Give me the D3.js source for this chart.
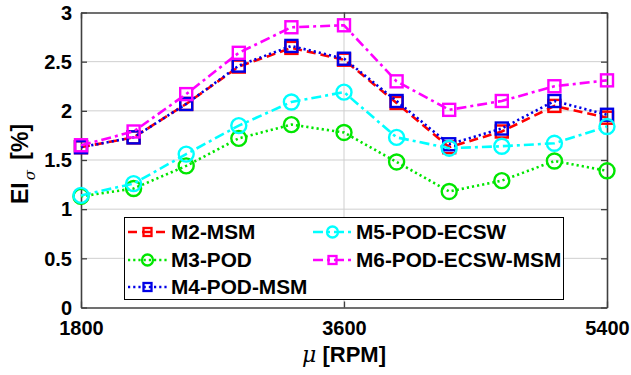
<!DOCTYPE html>
<html>
<head>
<meta charset="utf-8">
<script src="https://cdn.jsdelivr.net/npm/d3@7"></script>
<style>
  html, body { margin: 0; padding: 0; background: #fff; }
  svg { display: block; font-family: "Liberation Sans", Arial, Helvetica, sans-serif; font-weight: bold; }
</style>
</head>
<body>
<svg id="chart" width="631" height="375"></svg>
<script>
// Rotational speed samples (RPM)
const speeds = [1800, 2160, 2520, 2880, 3240, 3600, 3960, 4320, 4680, 5040, 5400];

// Error indicator EI_sigma (%) per reduced model
const m2MSM        = [1.63, 1.73, 2.07, 2.45, 2.64, 2.52, 2.08, 1.63, 1.79, 2.05, 1.93];
const m3POD        = [1.13, 1.21, 1.44, 1.72, 1.86, 1.78, 1.48, 1.18, 1.29, 1.49, 1.39];
const m4PODMSM     = [1.63, 1.73, 2.07, 2.46, 2.66, 2.53, 2.10, 1.66, 1.82, 2.10, 1.96];
const m5PODECSW    = [1.14, 1.26, 1.56, 1.85, 2.09, 2.19, 1.73, 1.62, 1.64, 1.67, 1.84];
const m6PODECSWMSM = [1.65, 1.79, 2.17, 2.59, 2.85, 2.87, 2.30, 2.01, 2.10, 2.25, 2.31];

const seriesNames = ["M2-MSM", "M3-POD", "M4-POD-MSM", "M5-POD-ECSW", "M6-POD-ECSW-MSM"];
const seriesValues = [m2MSM, m3POD, m4PODMSM, m5PODECSW, m6PODECSWMSM];

const xTicks = [1800, 3600, 5400];
const yTicks = [0, 0.5, 1, 1.5, 2, 2.5, 3];

// Per-series drawing style
const styles = [
  { color: "#ff0000", dash: "9,5",         marker: "square" },
  { color: "#00e600", dash: "2.2,3",       marker: "circle" },
  { color: "#0000e6", dash: "2.2,3",       marker: "square" },
  { color: "#00ffff", dash: "10,4,3,4",    marker: "circle" },
  { color: "#ff00ff", dash: "10,4,3,4",    marker: "square" }
];

const svg = d3.select("#chart");
const plot = { left: 81, right: 607, top: 12.5, bottom: 307.5 };

const x = d3.scaleLinear().domain([1800, 5400]).range([plot.left, plot.right]);
const y = d3.scaleLinear().domain([0, 3]).range([plot.bottom, plot.top]);

// Grid
const grid = svg.append("g").attr("stroke", "#cfcfcf").attr("stroke-width", 1);
grid.selectAll("line.h").data(yTicks.filter(t => t > 0 && t < 3)).join("line")
  .attr("x1", plot.left).attr("x2", plot.right)
  .attr("y1", d => y(d)).attr("y2", d => y(d));
grid.selectAll("line.v").data(xTicks.filter(t => t > 1800 && t < 5400)).join("line")
  .attr("y1", plot.top).attr("y2", plot.bottom)
  .attr("x1", d => x(d)).attr("x2", d => x(d));

// Axes (ticks drawn inward, box on all sides)
const axisColor = "#404040";
const tickLen = 6;
const fontSize = 20;

const xAxis = svg.append("g").attr("transform", `translate(0,${plot.bottom})`)
  .call(d3.axisBottom(x).tickValues(xTicks).tickSizeInner(-tickLen).tickSizeOuter(0).tickPadding(15).tickFormat(d3.format("d")));
const yAxis = svg.append("g").attr("transform", `translate(${plot.left},0)`)
  .call(d3.axisLeft(y).tickValues(yTicks).tickSizeInner(-tickLen).tickSizeOuter(0).tickPadding(9).tickFormat(d => d3.format("")(d)));
const xTop = svg.append("g").attr("transform", `translate(0,${plot.top})`)
  .call(d3.axisTop(x).tickValues(xTicks).tickSizeInner(-tickLen).tickSizeOuter(0).tickFormat(""));
const yRight = svg.append("g").attr("transform", `translate(${plot.right},0)`)
  .call(d3.axisRight(y).tickValues(yTicks).tickSizeInner(-tickLen).tickSizeOuter(0).tickFormat(""));

[xAxis, yAxis, xTop, yRight].forEach(g => {
  g.select(".domain").attr("stroke", axisColor).attr("stroke-width", 1.6);
  g.selectAll(".tick line").attr("stroke", axisColor).attr("stroke-width", 1.3);
  g.selectAll(".tick text").attr("fill", "#000").attr("font-size", fontSize)
    .attr("font-weight", "bold").attr("font-family", "Liberation Sans, Arial, sans-serif");
});
yAxis.selectAll(".tick text").attr("dy", "0.34em");
xAxis.selectAll(".tick text").attr("dy", "0.62em");

// Series lines and markers
const line = d3.line().x((d, i) => x(speeds[i])).y(d => y(d));

function drawMarker(g, type, cx, cy, size, color, sw) {
  if (type === "square") {
    g.append("rect").attr("x", cx - size / 2).attr("y", cy - size / 2)
      .attr("width", size).attr("height", size)
      .attr("fill", "none").attr("stroke", color).attr("stroke-width", sw);
  } else {
    g.append("circle").attr("cx", cx).attr("cy", cy).attr("r", size / 2)
      .attr("fill", "none").attr("stroke", color).attr("stroke-width", sw);
  }
}

seriesValues.forEach((vals, k) => {
  const st = styles[k];
  const g = svg.append("g");
  g.append("path").datum(vals).attr("d", line)
    .attr("fill", "none").attr("stroke", st.color).attr("stroke-width", 2.6)
    .attr("stroke-dasharray", st.dash);
  vals.forEach((v, i) => {
    drawMarker(g, st.marker, x(speeds[i]), y(v), st.marker === "square" ? 12 : 15, st.color, 2.4);
  });
});

// Legend (two columns)
const legend = svg.append("g");
legend.append("rect").attr("x", 124.5).attr("y", 217.5).attr("width", 439).attr("height", 82)
  .attr("fill", "#fff").attr("stroke", "#000").attr("stroke-width", 1);

const legendPos = [
  { lx: 128, ly: 232 }, { lx: 128, ly: 260 }, { lx: 128, ly: 287 },
  { lx: 313, ly: 232 }, { lx: 313, ly: 260 }
];
seriesNames.forEach((name, k) => {
  const st = styles[k];
  const p = legendPos[k];
  const g = legend.append("g");
  g.append("line").attr("x1", p.lx).attr("x2", p.lx + 39).attr("y1", p.ly).attr("y2", p.ly)
    .attr("stroke", st.color).attr("stroke-width", 2.6).attr("stroke-dasharray", st.dash);
  drawMarker(g, st.marker, p.lx + 19.5, p.ly, st.marker === "square" ? 8 : 11, st.color, 2.3);
  g.append("text").attr("x", p.lx + 43).attr("y", p.ly).attr("dy", "0.36em")
    .attr("font-size", 20.8).attr("fill", "#000").text(name);
});

// Axis titles
const xTitle = svg.append("text").attr("x", x(3600)).attr("y", 362)
  .attr("text-anchor", "middle").attr("font-size", 22).attr("fill", "#000");
xTitle.append("tspan").attr("font-style", "italic").attr("font-family", "DejaVu Serif, serif").attr("font-weight", "normal").text("μ");
xTitle.append("tspan").text(" [RPM]");

const yTitle = svg.append("text")
  .attr("transform", `translate(28,${(plot.top + plot.bottom) / 2 + 4}) rotate(-90)`)
  .attr("text-anchor", "middle").attr("font-size", 23).attr("fill", "#000");
yTitle.append("tspan").text("EI");
yTitle.append("tspan").attr("font-style", "italic").attr("font-family", "DejaVu Serif, serif")
  .attr("font-weight", "normal").attr("font-size", 15).attr("dy", 7).attr("dx", 2).text("σ");
yTitle.append("tspan").attr("dy", -7).attr("dx", 4).text(" [%]");
</script>
</body>
</html>
